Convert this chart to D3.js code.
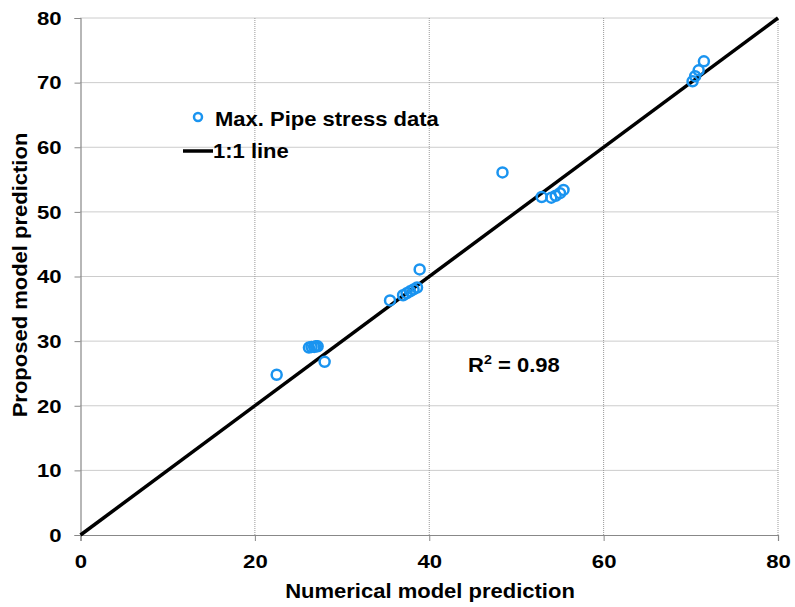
<!DOCTYPE html>
<html><head><meta charset="utf-8">
<script src="https://cdn.jsdelivr.net/npm/d3@7"></script>
<style>body{margin:0;background:#fff}svg{display:block}text{font-family:"Liberation Sans",Arial,sans-serif;font-weight:bold;fill:#000}</style>
</head><body>
<script>
const xTicks = [0, 20, 40, 60, 80];
const yTicks = [0, 10, 20, 30, 40, 50, 60, 70, 80];
const numericalPred = [22.5, 28.0, 26.2, 26.5, 26.8, 27.0, 27.2, 35.5, 38.9, 37.0, 37.4, 37.8, 38.2, 38.6, 48.4, 52.9, 54.0, 54.5, 55.0, 55.4, 70.2, 70.5, 70.9, 71.5];
const proposedPred  = [24.8, 26.8, 29.0, 29.1, 29.1, 29.2, 29.2, 36.3, 41.1, 37.1, 37.4, 37.7, 38.0, 38.3, 56.1, 52.3, 52.2, 52.5, 52.9, 53.4, 70.2, 71.0, 71.9, 73.3];
const lineX = [0, 80];
const seriesNames = ["Max. Pipe stress data", "1:1 line"];
const r2Label = "0.98";

const W = 795, H = 607;
const KT = 1.23; // horizontal stretch for tick labels
const K = 1.1;   // horizontal stretch for titles/legend
const m = {l: 80.5, r: 17, t: 18, b: 72};
const svg = d3.select("body").append("svg").attr("width", W).attr("height", H);
const x = d3.scaleLinear().domain([0, 80]).range([m.l, W - m.r]);
const y = d3.scaleLinear().domain([0, 80]).range([H - m.b, m.t]);

// gridlines
svg.append("g").selectAll("line").data(yTicks.filter(d => d > 0)).join("line")
  .attr("x1", x(0)).attr("x2", x(80)).attr("y1", d => y(d)).attr("y2", d => y(d))
  .attr("stroke", "#999").attr("stroke-width", 1).attr("stroke-dasharray", "1,1");
svg.append("g").selectAll("line").data(xTicks.filter(d => d > 0)).join("line")
  .attr("y1", y(0)).attr("y2", y(80)).attr("x1", d => x(d)).attr("x2", d => x(d))
  .attr("stroke", "#999").attr("stroke-width", 1).attr("stroke-dasharray", "1,1");

// axes
const xAxis = svg.append("g").attr("transform", `translate(0,${y(0)})`)
  .call(d3.axisBottom(x).tickValues(xTicks).tickSize(6).tickFormat(d3.format("d")));
const yAxis = svg.append("g").attr("transform", `translate(${x(0)},0)`)
  .call(d3.axisLeft(y).tickValues(yTicks).tickSize(6).tickFormat(d3.format("d")));
[xAxis, yAxis].forEach(g => {
  g.select(".domain").attr("stroke", "#888").attr("stroke-width", 1.2);
  g.selectAll(".tick line").attr("stroke", "#888");
  g.selectAll(".tick text").attr("font-size", 18).attr("font-family", "Liberation Sans, Arial, sans-serif").attr("font-weight", "bold").attr("fill", "#000");
});
xAxis.selectAll(".tick text").attr("y", null).attr("dy", null).attr("transform", `translate(0,33) scale(${KT},1)`);
yAxis.selectAll(".tick text").attr("x", null).attr("dy", "0.35em").attr("transform", `translate(-19,0) scale(${KT},1)`);

// 1:1 line
svg.append("line").attr("x1", x(lineX[0])).attr("y1", y(lineX[0])).attr("x2", x(lineX[1])).attr("y2", y(lineX[1]))
  .attr("stroke", "#000").attr("stroke-width", 3.5);

// points
svg.append("g").selectAll("circle").data(numericalPred.map((v, i) => [v, proposedPred[i]])).join("circle")
  .attr("cx", d => x(d[0])).attr("cy", d => y(d[1])).attr("r", 5)
  .attr("fill", "none").attr("stroke", "#1a94f0").attr("stroke-width", 2.5);

function label(px, py, txt, opts = {}) {
  const t = svg.append("text")
    .attr("transform", `translate(${px},${py})` + (opts.rot ? ` rotate(${opts.rot})` : "") + ` scale(${K},1)`)
    .attr("font-size", opts.size || 20)
    .attr("text-anchor", opts.anchor || "start");
  if (txt !== null) t.text(txt);
  return t;
}

// legend
svg.append("circle").attr("cx", 198).attr("cy", 117).attr("r", 4).attr("fill", "none").attr("stroke", "#1a94f0").attr("stroke-width", 2.5);
label(215, 125.5, seriesNames[0]);
svg.append("line").attr("x1", 183).attr("x2", 213).attr("y1", 151).attr("y2", 151).attr("stroke", "#000").attr("stroke-width", 3.5);
label(213, 158, seriesNames[1]);

// R^2
const rt = label(468, 372, null);
rt.append("tspan").text("R");
rt.append("tspan").attr("font-size", 13).attr("dy", -8).text("2");
rt.append("tspan").attr("dy", 8).text(" = " + r2Label);

// axis titles
label(430, 598, "Numerical model prediction", {anchor: "middle"});
label(27, 275, "Proposed model prediction", {anchor: "middle", rot: -90});
</script>
</body></html>
